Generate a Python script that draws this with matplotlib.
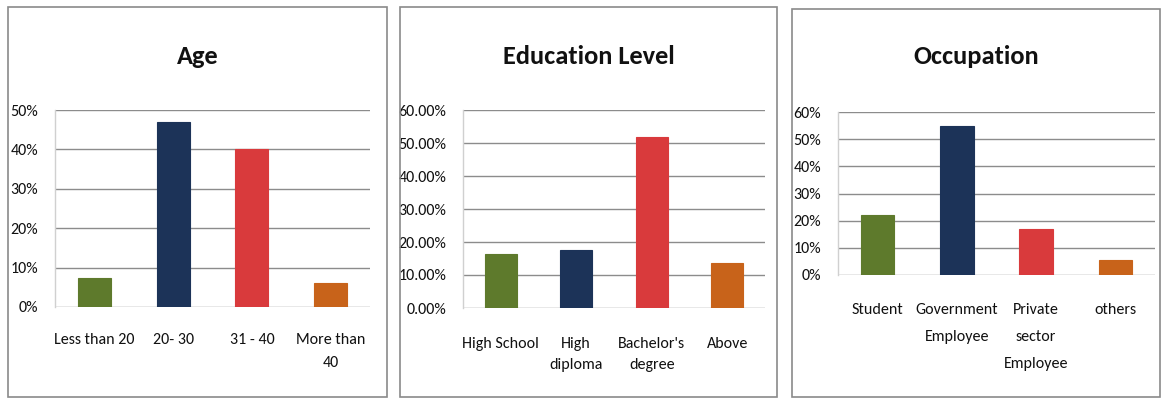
import matplotlib
matplotlib.use("Agg")
import matplotlib.pyplot as plt
from matplotlib.patches import Rectangle
from matplotlib.ticker import FuncFormatter

plt.rcParams['font.family'] = ['Carlito', 'PT Sans Narrow', 'DejaVu Sans']

age_labels = ["Less than 20", "20- 30", "31 - 40", "More than\n40"]
age_values = [7.4, 47.0, 40.0, 6.0]

edu_labels = ["High School", "High\ndiploma", "Bachelor's\ndegree", "Above"]
edu_values = [16.5, 17.7, 51.9, 13.7]

occ_labels = ["Student", "Government\nEmployee", "Private\nsector\nEmployee", "others"]
occ_values = [22.0, 55.0, 17.0, 5.7]

colors = ["#5e7a2c", "#1c3358", "#d93a3c", "#c8631a"]

W, H = 1163, 399
fig = plt.figure(figsize=(W / 100, H / 100), dpi=100)

def px_axes(l, r, t, b):
    return fig.add_axes([l / W, (H - b) / H, (r - l) / W, (b - t) / H])

def panel_box(l, r, t, b):
    fig.patches.append(Rectangle((l / W, (H - b) / H), (r - l) / W, (b - t) / H,
                                 transform=fig.transFigure, fill=False,
                                 edgecolor="#8a8a8a", linewidth=1.2))

# title, labels, values, ymax, tick format, panel box, plot area, x-label pad, line spacing
panels = [
    ("Age", age_labels, age_values, 50, "{:.0f}%", (8, 387, 7, 397), (55, 370, 110, 307), 19, 1.8),
    ("Education Level", edu_labels, edu_values, 60, "{:.2f}%", (400, 777, 7, 397), (463, 765, 110, 308), 21, 1.6),
    ("Occupation", occ_labels, occ_values, 60, "{:.0f}%", (792, 1160, 9, 397), (838, 1155, 112, 275), 20, 2.2),
]

for title, labels, values, ymax, fmt, box, ax_px, xpad, lsp in panels:
    panel_box(*box)
    ax = px_axes(*ax_px)
    x = range(len(values))
    ax.bar(x, values, width=0.42, color=colors, edgecolor=colors, linewidth=0.8, zorder=3)
    ax.set_xlim(-0.5, len(values) - 0.5)
    ax.set_ylim(0, ymax)
    ax.set_yticks(range(0, ymax + 1, 10))
    ax.yaxis.set_major_formatter(FuncFormatter(lambda v, p, f=fmt: f.format(v)))
    ax.set_xticks(list(x))
    ax.set_xticklabels(labels, linespacing=lsp, va="top")
    ax.grid(axis="y", color="#8c8c8c", linewidth=1.0, zorder=0)
    ax.tick_params(length=0, labelsize=11.5, colors="#111111")
    ax.tick_params(axis="x", pad=xpad)
    ax.tick_params(axis="y", pad=12)
    for s in ["top", "right", "bottom"]:
        ax.spines[s].set_visible(False)
    ax.spines["left"].set_color("#d0d0d0")
    ax.spines["left"].set_linewidth(1.0)
    cx = (box[0] + box[1]) / 2
    fig.text(cx / W, (H - 57) / H, title, ha="center", va="center",
             fontsize=19, fontweight="bold", color="#111111")

fig.savefig("out.png", dpi=100)
